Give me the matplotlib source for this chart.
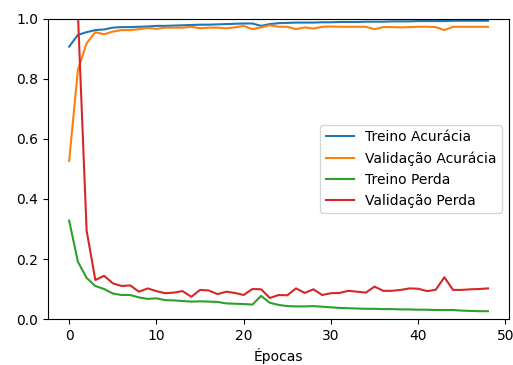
import matplotlib
matplotlib.use('Agg')
import matplotlib.pyplot as plt

# training history (49 epochs)
treino_acc = [0.908, 0.947, 0.956, 0.963, 0.965, 0.971, 0.973, 0.973, 0.974, 0.975,
              0.977, 0.977, 0.978, 0.979, 0.980, 0.981, 0.981, 0.982, 0.983, 0.984,
              0.985, 0.985, 0.977, 0.983, 0.986, 0.987, 0.988, 0.988, 0.988, 0.989,
              0.989, 0.990, 0.990, 0.990, 0.991, 0.991, 0.991, 0.992, 0.992, 0.992,
              0.993, 0.993, 0.993, 0.993, 0.994, 0.994, 0.994, 0.994, 0.994]
val_acc = [0.527, 0.830, 0.919, 0.956, 0.949, 0.958, 0.963, 0.963, 0.966, 0.970,
           0.967, 0.971, 0.971, 0.971, 0.974, 0.969, 0.971, 0.971, 0.969, 0.972,
           0.977, 0.966, 0.972, 0.979, 0.974, 0.974, 0.966, 0.972, 0.968, 0.974,
           0.975, 0.974, 0.974, 0.974, 0.974, 0.966, 0.973, 0.973, 0.972, 0.973,
           0.974, 0.974, 0.973, 0.963, 0.974, 0.974, 0.974, 0.974, 0.974]
treino_loss = [0.328, 0.191, 0.137, 0.110, 0.100, 0.085, 0.080, 0.080, 0.072, 0.067,
               0.069, 0.063, 0.062, 0.060, 0.058, 0.059, 0.058, 0.057, 0.052, 0.051,
               0.050, 0.048, 0.077, 0.054, 0.047, 0.043, 0.042, 0.042, 0.043, 0.041,
               0.039, 0.037, 0.036, 0.035, 0.034, 0.034, 0.033, 0.033, 0.032, 0.032,
               0.031, 0.031, 0.030, 0.030, 0.030, 0.028, 0.027, 0.026, 0.026]
val_loss = [2.500, 1.020, 0.295, 0.130, 0.144, 0.119, 0.110, 0.112, 0.091, 0.102,
            0.093, 0.086, 0.088, 0.093, 0.074, 0.097, 0.095, 0.083, 0.091, 0.087,
            0.080, 0.100, 0.099, 0.070, 0.080, 0.079, 0.102, 0.087, 0.099, 0.080,
            0.086, 0.087, 0.094, 0.091, 0.088, 0.108, 0.094, 0.094, 0.097, 0.102,
            0.101, 0.093, 0.097, 0.139, 0.097, 0.097, 0.099, 0.100, 0.102]

epocas = list(range(len(treino_acc)))

fig, ax = plt.subplots(figsize=(5.13, 3.65), dpi=100)
fig.subplots_adjust(left=0.094, right=0.992, top=0.948, bottom=0.126)

ax.plot(epocas, treino_acc, label='Treino Acurácia')
ax.plot(epocas, val_acc, label='Validação Acurácia')
ax.plot(epocas, treino_loss, label='Treino Perda')
ax.plot(epocas, val_loss, label='Validação Perda')

ax.set_ylim(0, 1)
ax.set_xlabel('Épocas')
ax.legend(loc='center right')

fig.savefig('out.png', dpi=100, facecolor='white')
